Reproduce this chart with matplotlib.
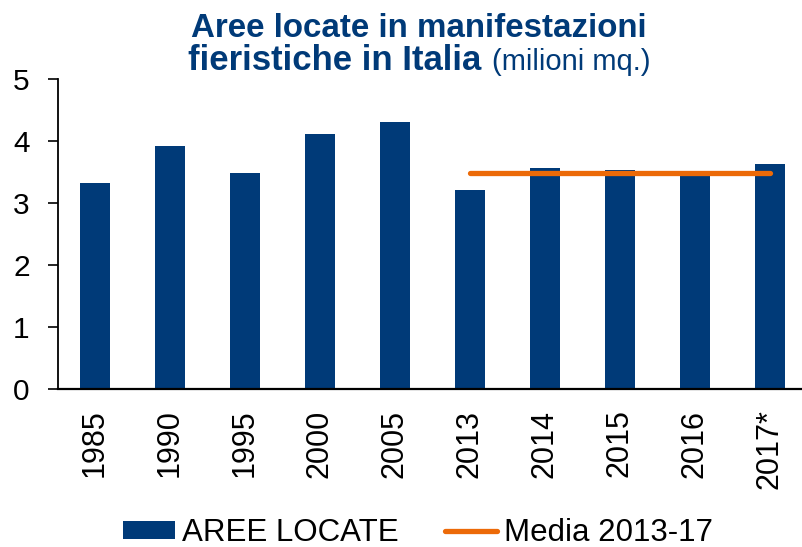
import matplotlib.pyplot as plt
import numpy as np

plt.rcParams["font.family"] = ["Liberation Sans", "DejaVu Sans"]

anni = ["1985", "1990", "1995", "2000", "2005", "2013", "2014", "2015", "2016", "2017*"]
aree_locate = [3.32, 3.92, 3.48, 4.12, 4.31, 3.20, 3.57, 3.53, 3.47, 3.63]
media_anni = ["2013", "2017*"]
media_valore = 3.48

blu = "#003A78"
arancio = "#EC6A08"

fig = plt.figure(figsize=(8.02, 5.47), dpi=100)
ax = fig.add_axes([57.6 / 802, 1 - 388.7 / 547, 1 - 57.6 / 802, (388.7 - 79) / 547])

x = np.arange(len(anni))
barre = ax.bar(x, aree_locate, width=0.4, color=blu, label="AREE LOCATE")
i0, i1 = anni.index(media_anni[0]), anni.index(media_anni[1])
linea, = ax.plot([x[i0], x[i1]], [media_valore, media_valore], color=arancio, lw=3.8,
                 solid_capstyle="round", label="Media 2013-17")

ax.set_xlim(-0.5, 9.43)
ax.set_ylim(0, 5)
ax.set_yticks([0, 1, 2, 3, 4, 5])
ax.set_xticks(x)
ax.set_xticklabels(anni, rotation=90, va="top", ha="center")
ax.tick_params(axis="x", length=0, pad=15, labelsize=22)
ax.tick_params(axis="y", length=7, width=1.2, pad=13, labelsize=21.5)
for s in ["top", "right"]:
    ax.spines[s].set_visible(False)
ax.spines["left"].set_linewidth(1.3)
ax.spines["bottom"].set_linewidth(1.6)

# title
fig.text(419 / 802, 1 - 37 / 547, "Aree locate in manifestazioni", ha="center",
         va="baseline", fontsize=23.9, fontweight="bold", color=blu)
fig.text(481 / 802, 1 - 70 / 547, "fieristiche in Italia", ha="right",
         va="baseline", fontsize=25, fontweight="bold", color=blu)
fig.text(492 / 802, 1 - 70 / 547, "(milioni mq.)", ha="left",
         va="baseline", fontsize=21, color=blu)

fig.legend(handles=[barre, linea], loc="center", bbox_to_anchor=(418 / 802, 1 - 533 / 547),
           ncol=2, frameon=False, fontsize=22.5, handlelength=1.66, handleheight=0.52,
           handletextpad=0.22, columnspacing=1.47, borderpad=0, borderaxespad=0)

fig.savefig("out.png", dpi=100)
